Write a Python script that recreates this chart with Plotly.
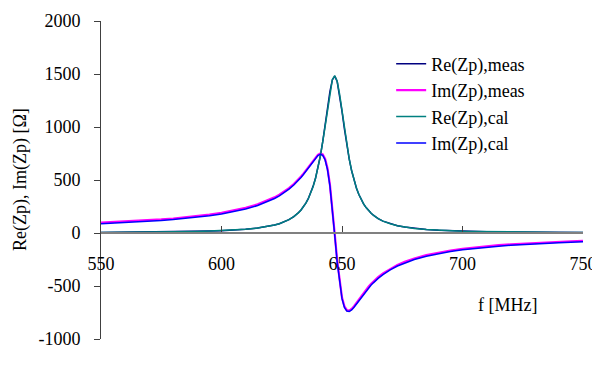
import plotly.graph_objects as go

freq = [550, 555, 560, 565, 570, 575, 580, 585, 590, 595, 600, 605, 610, 615, 620,
        622, 624, 626, 628, 630,
        631, 632, 633, 634, 635, 636, 637, 638, 639, 640, 641, 642, 643, 644, 645,
        646, 647, 648, 649, 650, 651, 652, 653, 654, 655, 656, 657, 658, 659, 660,
        661, 662, 663, 664, 665,
        667, 670, 673, 676, 680,
        685, 690, 695, 700, 705, 710, 715, 720, 725, 730, 735, 740, 745, 750]

re_meas = [4, 5, 6, 7, 8, 9, 11, 13, 15, 18, 22, 27, 35, 47, 65,
           75, 88, 105, 126, 155,
           172, 193, 217, 247, 282, 324, 376, 440, 516, 610, 724, 861, 1017, 1182, 1335,
           1444, 1480, 1429, 1306, 1147, 982, 829, 697, 587, 497, 423, 363, 314, 273, 240,
           212, 188, 168, 151, 136,
           112, 87, 69, 56, 44,
           33, 26, 21, 17, 14, 12, 10, 9, 8, 7, 6, 6, 5, 5]

im_meas = [98, 103, 108, 114, 121, 128, 137, 147, 159, 173, 190, 211, 237, 270, 314,
           336, 361, 390, 423, 462,
           484, 508, 533, 560, 589, 620, 652, 684, 713, 737, 750, 742, 700, 608, 455,
           242, -12, -260, -466, -609, -692, -728, -733, -716, -690, -659, -627, -594, -563, -534,
           -507, -482, -459, -437, -417,
           -381, -337, -301, -272, -240,
           -208, -184, -165, -149, -136, -124, -115, -107, -100, -93, -87, -82, -78, -74]

re_cal = [5.2, 5.8, 6.5, 7.3, 8.3, 9.4, 10.9, 12.7, 15.0, 18.0, 22.0, 27.4, 35.2, 46.7, 64.8,
          75.1, 88.0, 104.4, 125.8, 154.0,
          171.6, 192.4, 216.8, 246.0, 280.9, 323.0, 374.3, 437.0, 513.9, 608.2, 722.8, 859.8,
          1016.4, 1183.4, 1338.1, 1448.5, 1483.6, 1431.6, 1309.3, 1149.8, 983.8, 830.6, 698.2,
          587.7, 497.3, 423.4, 363.3, 313.9, 273.4, 239.7, 211.6, 187.9, 167.9, 150.7, 136.0,
          112.3, 86.6, 68.7, 55.8, 43.5,
          33.0, 25.9, 20.9, 17.2, 14.4, 12.2, 10.5, 9.1, 8.0, 7.1, 6.3, 5.6, 5.1, 4.6]

im_cal = [87.8, 92.5, 97.8, 103.7, 110.3, 117.9, 126.6, 136.7, 148.5, 162.3, 179.3, 199.9, 225.8, 259.1, 303.3,
          325.3, 350.6, 379.6, 413.4, 452.6,
          474.5, 498.5, 524.1, 551.8, 581.4, 612.4, 644.5, 676.5, 706.1, 729.8, 741.6, 732.6,
          689.1, 596.4, 441.6, 227.4, -25.8, -273.4, -477.9, -619.7, -701.4, -736.7, -740.8,
          -725.8, -700.7, -670.2, -638.3, -605.8, -575.2, -546.0, -518.8, -493.4, -470.1, -448.2, -428.1,
          -392.6, -347.9, -311.8, -282.4, -250.4,
          -218.7, -194.1, -174.8, -158.8, -145.5, -133.9, -124.4, -116.0, -108.7, -102.2, -96.4, -91.3, -86.7, -82.5]

x_ticks = [550, 600, 650, 700, 750]
y_ticks = [-1000, -500, 0, 500, 1000, 1500, 2000]
y_tick_labels = ["-1000", "-500", "0", "500", "1000", "1500", "2000"]

names = ["Re(Zp),meas", "Im(Zp),meas", "Re(Zp),cal", "Im(Zp),cal"]
colors = ["#000080", "#FF00FF", "#008080", "#0000FF"]
widths = [1.5, 2.2, 1.5, 1.5]
series = [re_meas, im_meas, re_cal, im_cal]

FONT = "Liberation Serif"

fig = go.Figure()
for n, c, w, s in zip(names, colors, widths, series):
    fig.add_trace(go.Scatter(x=freq, y=s, mode="lines", name=n,
                             line=dict(color=c, width=w)))

fig.update_layout(
    width=600, height=378,
    margin=dict(l=93, r=25, t=13, b=47),
    paper_bgcolor="white", plot_bgcolor="white",
    font=dict(family=FONT, size=18, color="black"),
    showlegend=True,
    legend=dict(x=0.602, y=0.923, xanchor="left", yanchor="top",
                bgcolor="rgba(0,0,0,0)", borderwidth=0,
                font=dict(family=FONT, size=18, color="black"),
                itemwidth=30, tracegroupgap=0),
    xaxis=dict(range=[550, 750], tickvals=x_ticks,
               anchor="free", position=1/3, automargin=False,
               showgrid=False, zeroline=False,
               showline=True, linecolor="#808080", linewidth=1.5,
               ticks="inside", ticklen=6, tickcolor="#404040", tickwidth=1,
               ticklabelstandoff=15,
               tickfont=dict(family=FONT, size=18, color="black")),
    yaxis=dict(range=[-1000, 2000], tickvals=y_ticks, ticktext=y_tick_labels,
               automargin=False,
               showgrid=False, zeroline=False,
               showline=True, linecolor="#404040", linewidth=1,
               ticks="outside", ticklen=6, tickcolor="#404040", tickwidth=1,
               ticklabelstandoff=10,
               tickfont=dict(family=FONT, size=18, color="black")),
    annotations=[
        dict(text="Re(Zp), Im(Zp) [Ω]", xref="paper", yref="paper",
             x=-0.168, y=0.5, xanchor="center", yanchor="middle",
             textangle=-90, showarrow=False,
             font=dict(family=FONT, size=18, color="black")),
        dict(text="f [MHz]", xref="paper", yref="paper",
             x=0.778, y=0.1056, xanchor="left", yanchor="middle",
             showarrow=False,
             font=dict(family=FONT, size=18, color="black")),
    ],
)

fig.write_html("out.html")
